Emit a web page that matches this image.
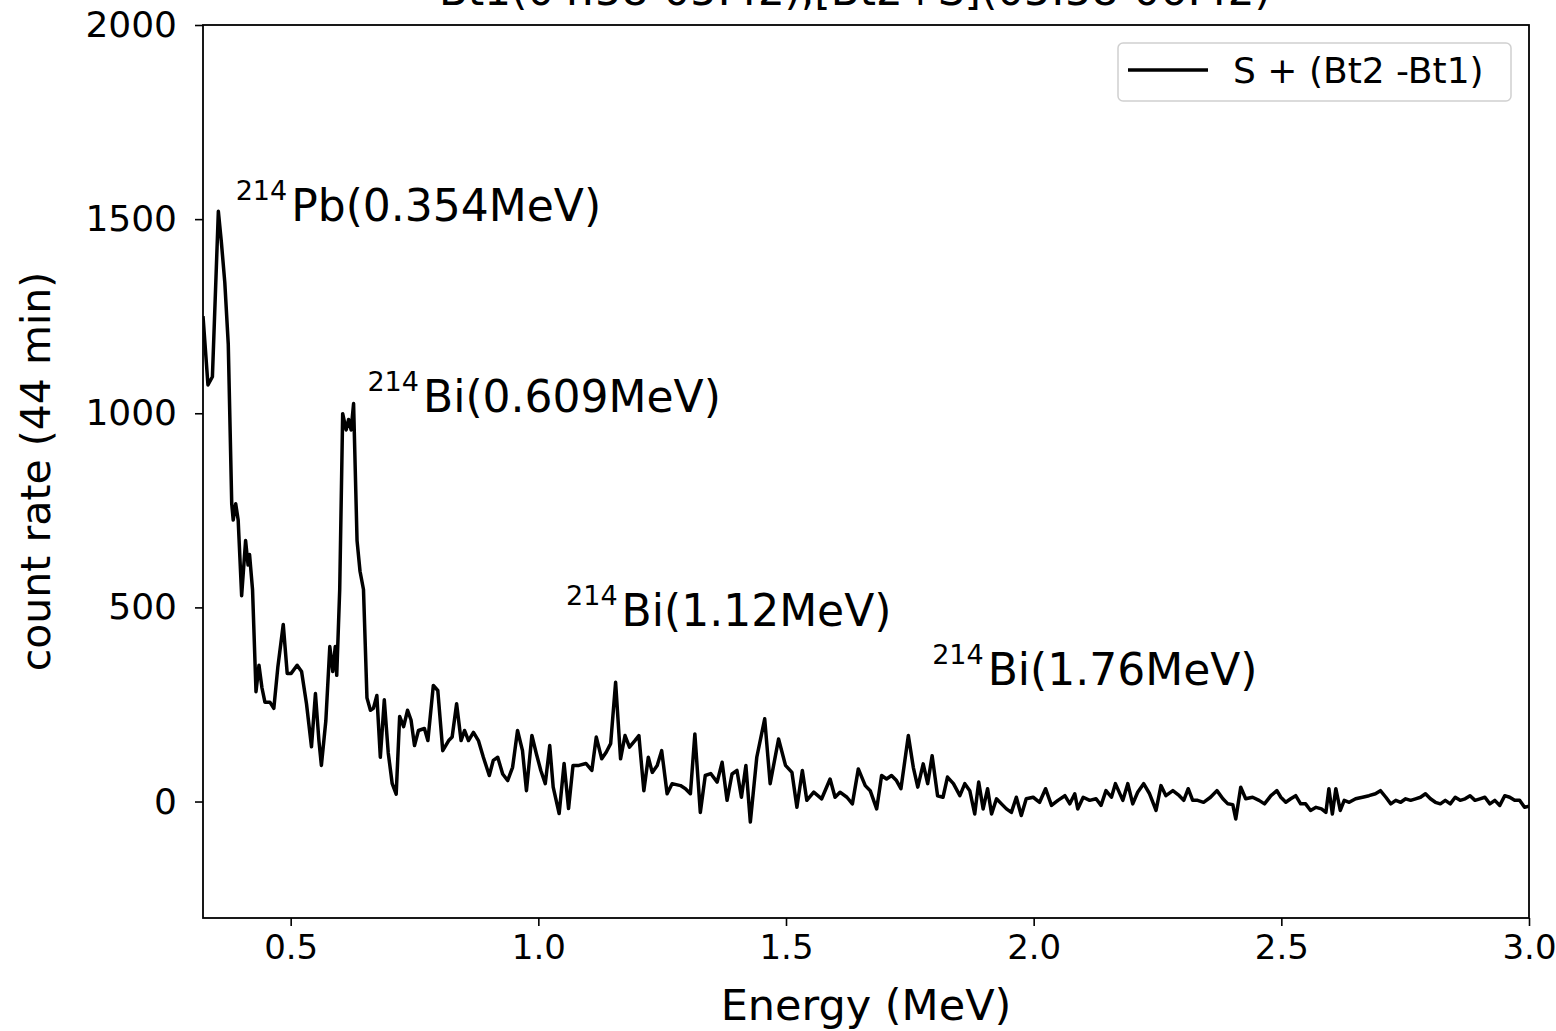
<!DOCTYPE html>
<html>
    <head>
        <meta charset="UTF-8" />
        <title>S + (Bt2 - Bt1) spectrum</title>
        <style>
            body { margin: 0; background: #fff; }
            text { font-family: "DejaVu Sans", sans-serif; fill: #000; }
        </style>
    </head>
    <body>
        <script src="https://d3js.org/d3.v7.min.js"></script>
        <script type="text/javascript">
            // spectrum: energy (MeV) and count rate
            var energy = [
                0.323, 0.333, 0.342, 0.354, 0.360, 0.367, 0.374, 0.381, 0.384, 0.389,
                0.394, 0.401, 0.409, 0.414, 0.417, 0.423, 0.430, 0.436, 0.442, 0.448,
                0.458, 0.466, 0.474, 0.485, 0.493, 0.501, 0.513, 0.522, 0.532, 0.542,
                0.550, 0.557, 0.562, 0.571, 0.579, 0.585, 0.590, 0.593, 0.599, 0.605,
                0.612, 0.617, 0.622, 0.627, 0.634, 0.640, 0.647, 0.654, 0.661, 0.667,
                0.674, 0.681, 0.689, 0.697, 0.705, 0.713, 0.720, 0.728, 0.736, 0.743,
                0.750, 0.758, 0.770, 0.777, 0.788, 0.797, 0.807, 0.819, 0.826, 0.835,
                0.844, 0.851, 0.859, 0.869, 0.879, 0.889, 0.901, 0.909, 0.918, 0.928,
                0.938, 0.948, 0.958, 0.968, 0.976, 0.987, 0.996, 1.005, 1.014, 1.023,
                1.030, 1.042, 1.052, 1.061, 1.070, 1.082, 1.096, 1.108, 1.117, 1.128,
                1.137, 1.146, 1.156, 1.166, 1.175, 1.184, 1.195, 1.203, 1.213, 1.222,
                1.230, 1.240, 1.249, 1.260, 1.270, 1.287, 1.297, 1.307, 1.316, 1.327,
                1.337, 1.348, 1.361, 1.371, 1.381, 1.391, 1.401, 1.410, 1.419, 1.428,
                1.441, 1.457, 1.468, 1.485, 1.499, 1.512, 1.522, 1.533, 1.542, 1.556,
                1.572, 1.589, 1.599, 1.609, 1.623, 1.634, 1.646, 1.660, 1.670, 1.683,
                1.693, 1.703, 1.713, 1.723, 1.732, 1.747, 1.757, 1.766, 1.777, 1.786,
                1.795, 1.806, 1.817, 1.826, 1.838, 1.851, 1.861, 1.871, 1.881, 1.889,
                1.898, 1.907, 1.915, 1.925, 1.935, 1.945, 1.955, 1.965, 1.975, 1.985,
                1.999, 2.012, 2.024, 2.036, 2.049, 2.063, 2.073, 2.083, 2.089, 2.100,
                2.113, 2.126, 2.136, 2.146, 2.157, 2.165, 2.180, 2.190, 2.200, 2.210,
                2.222, 2.234, 2.247, 2.257, 2.267, 2.281, 2.294, 2.303, 2.312, 2.321,
                2.331, 2.343, 2.357, 2.370, 2.382, 2.392, 2.402, 2.408, 2.418, 2.428,
                2.442, 2.455, 2.466, 2.479, 2.491, 2.499, 2.509, 2.519, 2.529, 2.539,
                2.549, 2.559, 2.570, 2.581, 2.590, 2.596, 2.603, 2.610, 2.619, 2.627,
                2.637, 2.650, 2.664, 2.677, 2.690, 2.700, 2.711, 2.721, 2.731, 2.741,
                2.751, 2.761, 2.771, 2.781, 2.791, 2.801, 2.811, 2.821, 2.831, 2.841,
                2.851, 2.861, 2.871, 2.881, 2.891, 2.901, 2.911, 2.921, 2.931, 2.941,
                2.951, 2.961, 2.971, 2.981, 2.991, 3.000
            ];
            var counts = [
                1250, 1073, 1094, 1520, 1442, 1337, 1178, 767, 725, 767,
                725, 530, 672, 609, 636, 546, 283, 351, 293, 256,
                256, 240, 345, 456, 330, 330, 351, 335, 251, 141,
                278, 157, 93, 208, 399, 335, 399, 325, 546, 999,
                957, 984, 957, 1025, 672, 593, 546, 267, 235, 240,
                273, 114, 262, 125, 46, 19, 219, 193, 235, 210,
                144, 183, 188, 157, 299, 286, 131, 157, 166, 252,
                157, 183, 157, 178, 157, 114, 67, 106, 114, 71,
                54, 88, 183, 131, 28, 170, 123, 80, 46, 144,
                37, -31, 98, -18, 93, 93, 98, 80, 166, 110,
                127, 149, 307, 110, 170, 140, 157, 170, 28, 114,
                75, 93, 131, 20, 46, 41, 33, 20, 174, -28,
                67, 72, 50, 101, 3, 71, 80, 11, 93, -53,
                114, 213, 46, 161, 93, 75, -15, 80, 3, 24,
                7, 58, 11, 24, 11, -6, 84, 41, 28, -19,
                67, 58, 67, 54, 33, 170, 88, 37, 97, 46,
                118, 15, 11, 63, 46, 15, 46, 28, -32, 50,
                -19, 33, -32, 7, -6, -19, -28, 11, -36, 7,
                11, -2, 33, -10, 3, 15, -6, 20, -19, 11,
                3, 7, -10, 28, 11, 46, 3, 46, -6, 24,
                46, 20, -23, 41, 15, 28, 15, 3, 33, 3,
                3, -2, 11, 28, 7, -6, -8, -45, 37, 7,
                11, 3, -6, 15, 28, 11, -2, 7, 15, -6,
                -6, -23, -15, -19, -28, 33, -32, 33, -23, 3,
                -2, 7, 11, 15, 20, 28, 11, -6, 3, -2,
                7, 3, 7, 11, 20, 7, -2, -6, 3, -6,
                11, 3, 7, 15, 3, 7, 11, -6, 3, -10,
                15, 11, 3, 3, -15, -12
            ];

            var xDomain = [0.323, 3.0];
            var yDomain = [-300, 2000];
            var xTicks = [0.5, 1.0, 1.5, 2.0, 2.5, 3.0];
            var yTicks = [0, 500, 1000, 1500, 2000];

            // peak labels: isotope, line, anchor energy, anchor count
            var peakIsotope = ["214", "214", "214", "214"];
            var peakName = ["Pb(0.354MeV)", "Bi(0.609MeV)", "Bi(1.12MeV)", "Bi(1.76MeV)"];
            var peakE = [0.389, 0.655, 1.056, 1.795];
            var peakC = [1496, 1002, 453, 301];

            var titleText = "Bt1(04:58-05:42),[Bt2+S](05:58-06:42)";
            var legendLabel = "S + (Bt2 -Bt1)";

            var margin = { top: 25, right: 27, bottom: 113, left: 203 };
            var W = 1556,
                H = 1031;

            var svg = d3
                .select("body")
                .append("svg")
                .attr("width", W)
                .attr("height", H);

            var x = d3
                .scaleLinear()
                .domain(xDomain)
                .range([margin.left, W - margin.right]);
            var y = d3
                .scaleLinear()
                .domain(yDomain)
                .range([H - margin.bottom, margin.top]);

            svg.append("clipPath")
                .attr("id", "plot-clip")
                .append("rect")
                .attr("x", margin.left)
                .attr("y", margin.top)
                .attr("width", W - margin.left - margin.right)
                .attr("height", H - margin.top - margin.bottom);

            // spectrum
            var line = d3
                .line()
                .x(function(d, i) {
                    return x(energy[i]);
                })
                .y(function(d) {
                    return y(d);
                });

            svg.append("path")
                .datum(counts)
                .attr("clip-path", "url(#plot-clip)")
                .attr("fill", "none")
                .attr("stroke", "#000")
                .attr("stroke-width", 3.5)
                .attr("stroke-linejoin", "round")
                .attr("d", line);

            // axes
            var xAxis = svg
                .append("g")
                .attr("transform", "translate(0," + (H - margin.bottom) + ")")
                .call(
                    d3
                        .axisBottom(x)
                        .tickValues(xTicks)
                        .tickFormat(d3.format(".1f"))
                        .tickSize(8)
                        .tickPadding(9)
                );
            var yAxis = svg
                .append("g")
                .attr("transform", "translate(" + margin.left + ",0)")
                .call(
                    d3
                        .axisLeft(y)
                        .tickValues(yTicks)
                        .tickFormat(d3.format("d"))
                        .tickSize(8)
                        .tickPadding(18)
                );

            [xAxis, yAxis].forEach(function(g) {
                g.select(".domain").remove();
                g.selectAll(".tick line")
                    .attr("stroke", "#000")
                    .attr("stroke-width", 1.6);
                g.selectAll(".tick text")
                    .attr("fill", "#1a1a1a")
                    .style("font-size", "34px")
                    .style("font-family", "DejaVu Sans");
            });
            yAxis.selectAll(".tick text").style("font-size", "36px");

            // frame
            svg.append("rect")
                .attr("x", margin.left)
                .attr("y", margin.top)
                .attr("width", W - margin.left - margin.right)
                .attr("height", H - margin.top - margin.bottom)
                .attr("fill", "none")
                .attr("stroke", "#000")
                .attr("stroke-width", 1.8);

            // axis titles
            svg.append("text")
                .attr("x", (margin.left + W - margin.right) / 2)
                .attr("y", 1020)
                .attr("text-anchor", "middle")
                .style("font-size", "43px")
                .text("Energy (MeV)");

            svg.append("text")
                .attr(
                    "transform",
                    "translate(50," + (margin.top + H - margin.bottom) / 2 + ") rotate(-90)"
                )
                .attr("text-anchor", "middle")
                .style("font-size", "41px")
                .text("count rate (44 min)");

            // title, cut off by the top of the image as in the original
            svg.append("text")
                .attr("x", 855)
                .attr("y", 5)
                .attr("text-anchor", "middle")
                .style("font-size", "42px")
                .text(titleText);

            // peak annotations
            peakName.forEach(function(name, i) {
                var t = svg
                    .append("text")
                    .attr("x", x(peakE[i]))
                    .attr("y", y(peakC[i]));
                t.append("tspan")
                    .style("font-size", "27px")
                    .attr("dy", -21)
                    .text(peakIsotope[i]);
                t.append("tspan")
                    .style("font-size", "44px")
                    .attr("dy", 21)
                    .attr("dx", 4)
                    .text(name);
            });

            // legend
            var lg = svg.append("g").attr("transform", "translate(1118,43)");
            lg.append("rect")
                .attr("width", 393)
                .attr("height", 58)
                .attr("rx", 5)
                .attr("fill", "#fff")
                .attr("fill-opacity", 0.8)
                .attr("stroke", "#d0d0d0")
                .attr("stroke-width", 1.5);
            lg.append("line")
                .attr("x1", 10)
                .attr("x2", 90)
                .attr("y1", 27)
                .attr("y2", 27)
                .attr("stroke", "#000")
                .attr("stroke-width", 3.5);
            lg.append("text")
                .attr("x", 115)
                .attr("y", 40)
                .style("font-size", "36px")
                .text(legendLabel);
        </script>
    </body>
</html>
